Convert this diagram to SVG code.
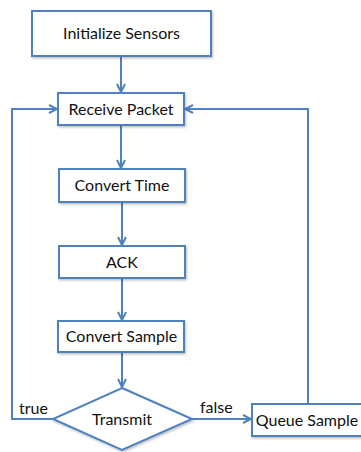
<svg xmlns="http://www.w3.org/2000/svg" width="361" height="452" viewBox="0 0 361 452">
<defs>
<style>
.box{fill:#fff;stroke:#4f81bd;stroke-width:2;filter:url(#sh)}
.lbl{font-family:Lato,"DejaVu Sans",sans-serif;font-size:16px;fill:#111;text-anchor:middle}
.edge{fill:none;stroke:#4f81bd;stroke-width:2;marker-end:url(#arr)}
.el{font-family:Lato,"DejaVu Sans",sans-serif;font-size:16px;fill:#111}
</style>
<filter id="sh" x="-10%" y="-10%" width="130%" height="140%">
<feDropShadow dx="1" dy="1.5" stdDeviation="1" flood-color="#000" flood-opacity="0.25"/>
</filter>
<marker id="arr" viewBox="0 0 10 10" refX="9" refY="5" markerWidth="10" markerHeight="10" markerUnits="userSpaceOnUse" orient="auto">
<path d="M1,1 L9,5 L1,9" fill="none" stroke="#4f81bd" stroke-width="2" stroke-linejoin="miter"/>
</marker>
</defs>
<g id="connectors">
<path class="edge" d="M121,56 V92"/>
<path class="edge" d="M121,125 V168"/>
<path class="edge" d="M122,202 V245"/>
<path class="edge" d="M122,278 V320"/>
<path class="edge" d="M122,352 V387"/>
<path class="edge" d="M192,419 H251"/>
<path class="edge" d="M53,419 H12 V109 H57"/>
<path class="edge" d="M308,404 V109 H185"/>
<text class="el" x="19" y="414">true</text>
<text class="el" x="200" y="413">false</text>
</g>
<g id="n1"><rect class="box" x="32" y="11" width="179" height="45"/><text class="lbl" x="121.5" y="39">Initialize Sensors</text></g>
<g id="n2"><rect class="box" x="58" y="93" width="126" height="32"/><text class="lbl" x="121" y="115">Receive Packet</text></g>
<g id="n3"><rect class="box" x="59" y="169" width="126" height="33"/><text class="lbl" x="122" y="191">Convert Time</text></g>
<g id="n4"><rect class="box" x="59" y="246" width="126" height="32"/><text class="lbl" x="122" y="268">ACK</text></g>
<g id="n5"><rect class="box" x="58" y="321" width="126" height="31"/><text class="lbl" x="121.5" y="342">Convert Sample</text></g>
<g id="n6"><polygon class="box" points="122,388 192,419 122,450 53,419"/><text class="lbl" x="122" y="425">Transmit</text></g>
<g id="n7"><rect class="box" x="252" y="404" width="110" height="32"/><text class="lbl" x="307" y="426">Queue Sample</text></g>
</svg>
